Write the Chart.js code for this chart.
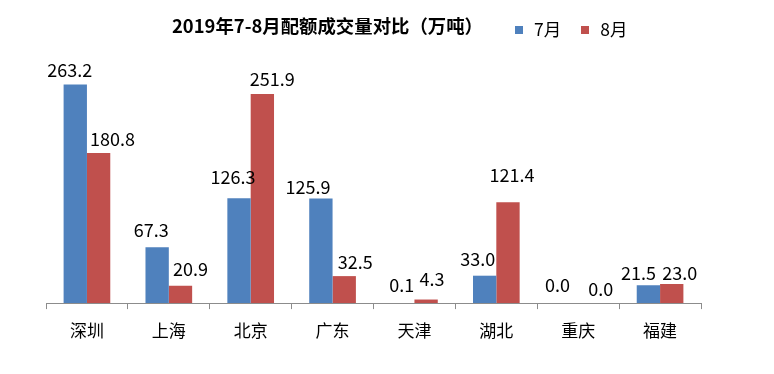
<!DOCTYPE html>
<html><head><meta charset="utf-8">
<script src="https://cdn.jsdelivr.net/npm/chart.js@4"></script>
<style>
html,body{margin:0;padding:0;background:#fff;}
#wrap{position:relative;width:774px;height:374px;font-family:"Noto Sans CJK SC","Noto Sans",sans-serif;}
#title{position:absolute;left:172px;top:12px;font-size:18.4px;font-weight:bold;color:#000;line-height:26px;white-space:nowrap;}
#legend{position:absolute;left:515px;top:16px;font-size:17.5px;color:#000;line-height:26px;white-space:nowrap;}
#legend span.sw{display:inline-block;width:8px;height:8px;margin-right:11px;vertical-align:2px;}
#legend span.it{margin-right:20px;}
canvas{position:absolute;left:0;top:0;}
</style></head>
<body><div id="wrap">
<canvas id="c" width="774" height="374"></canvas>
<div id="title">2019年7-8月配额成交量对比（万吨）</div>
<div id="legend"><span class="it"><span class="sw" style="background:#4F81BD"></span>7月</span><span><span class="sw" style="background:#C0504D"></span>8月</span></div>
</div>
<script>
const categories = ["深圳","上海","北京","广东","天津","湖北","重庆","福建"];
const seriesNames = ["7月","8月"];
const july = [263.2, 67.3, 126.3, 125.9, 0.1, 33.0, 0.0, 21.5];
const august = [180.8, 20.9, 251.9, 32.5, 4.3, 121.4, 0.0, 23.0];

// label placement tweaks (px, relative to each bar), styling only
const labelShiftX = [[-5.5, -6, -6, -13, -1, -7, -9, -10], [14, 10, 10, 11, 6, 4, 11, 8]];
const labelGap = [[8, 10, 14, 5, 11, 10, 11, 5], [7, 10, 8, 7, 14, 20, 7, 4]];

const labelPlugin = {
  id: 'valueLabels',
  afterDatasetsDraw(chart) {
    const ctx = chart.ctx;
    ctx.save();
    ctx.font = '18px "Noto Sans CJK SC", "Noto Sans", sans-serif';
    ctx.fillStyle = '#000';
    ctx.textAlign = 'center';
    ctx.textBaseline = 'alphabetic';
    chart.data.datasets.forEach((ds, i) => {
      chart.getDatasetMeta(i).data.forEach((bar, j) => {
        ctx.fillText(ds.data[j].toFixed(1), bar.x + labelShiftX[i][j], bar.y - labelGap[i][j]);
      });
    });
    ctx.restore();
  }
};

new Chart(document.getElementById('c'), {
  type: 'bar',
  data: {
    labels: categories,
    datasets: [
      {label: seriesNames[0], data: july, backgroundColor: '#4F81BD', barPercentage: 1.0, categoryPercentage: 0.57},
      {label: seriesNames[1], data: august, backgroundColor: '#C0504D', barPercentage: 1.0, categoryPercentage: 0.57}
    ]
  },
  options: {
    responsive: false,
    animation: false,
    layout: {padding: {left: 46, right: 73, top: 54, bottom: 22.5}},
    plugins: {legend: {display: false}, title: {display: false}, tooltip: {enabled: false}},
    scales: {
      y: {display: false, min: 0, max: 300},
      x: {
        grid: {display: true, drawOnChartArea: false, drawTicks: true, tickLength: 6, color: '#8c8c8c', offset: true},
        border: {display: true, color: '#8c8c8c', width: 1},
        ticks: {color: '#000', font: {size: 17, family: '"Noto Sans CJK SC", sans-serif'}, padding: 11, maxRotation: 0}
      }
    }
  },
  plugins: [labelPlugin]
});
</script>
</body></html>
